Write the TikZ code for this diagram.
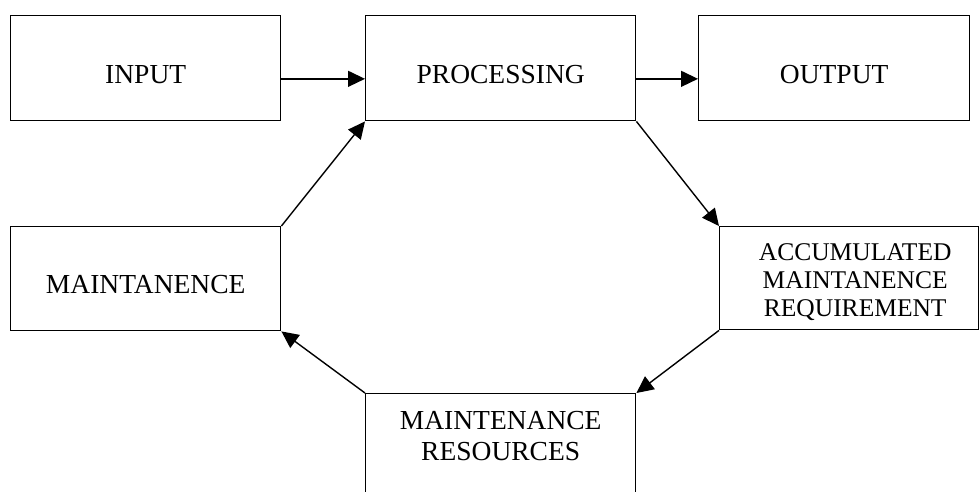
\documentclass[tikz,border=0pt]{standalone}
\usepackage{fontspec}
\setmainfont{Liberation Serif}
\usetikzlibrary{arrows.meta,calc}
\begin{document}
\begin{tikzpicture}[x=1pt,y=-1pt,
  blk/.style={draw, line width=1.4pt, inner sep=0pt, align=center,
    anchor=north west, font=\fontsize{27.5}{31}\selectfont},
  flow/.style={line width=1.4pt, -{Triangle[length=17pt,width=16pt]}}
]
% page area
\useasboundingbox (0,0) rectangle (979,491);
\fill[white] (0,0) rectangle (979,491);
\clip (0,0) rectangle (979,491);

% blocks (top-left corner, width, distance top->first baseline, rest)
\node[blk, text width=270pt, text height=68pt, text depth=37pt] (inp) at (10,15) {INPUT};
\node[blk, text width=270pt, text height=68pt, text depth=37pt] (proc) at (365,15) {PROCESSING};
\node[blk, text width=271pt, text height=68pt, text depth=37pt] (outp) at (698,15) {OUTPUT};
\node[blk, text width=270pt, text height=67pt, text depth=37pt] (maint) at (10,226) {MAINTANENCE};
% three-line block, its text set a little right of centre
\node[blk, text height=34pt, text depth=69pt,
  font=\fontsize{25.5}{28}\selectfont] (accum) at (719,226)
  {\makebox[259pt]{\hspace*{12pt}\hfill\begin{tabular}[t]{@{}c@{}}ACCUMULATED\\MAINTANENCE\\REQUIREMENT\end{tabular}\hfill}};
\node[blk, text width=270pt, text height=36pt, text depth=69pt] (res) at (365,393)
  {MAINTENANCE\\RESOURCES};

% connectors
\draw[flow] ($(inp.north east)!0.6!(inp.south east)$) -- ($(proc.north west)!0.6!(proc.south west)$);
\draw[flow] ($(proc.north east)!0.6!(proc.south east)$) -- ($(outp.north west)!0.6!(outp.south west)$);
\draw[flow] (proc.south east) -- (accum.north west);
\draw[flow] (accum.south west) -- (res.north east);
\draw[flow] (res.north west) -- (maint.south east);
\draw[flow] (maint.north east) -- (proc.south west);
\end{tikzpicture}
\end{document}
